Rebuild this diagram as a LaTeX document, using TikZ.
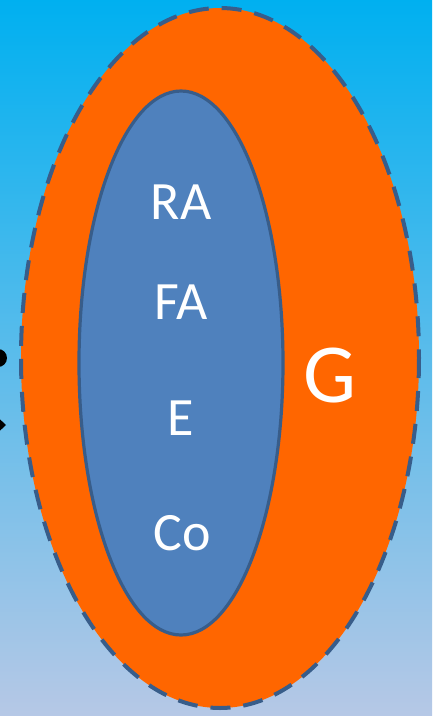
\documentclass[tikz,border=0pt]{standalone}
\usepackage{fontspec}
\setmainfont{Carlito}
\begin{document}
\begin{tikzpicture}[x=1pt,y=-1pt,
  lbl/.style={text=white,font=\fontsize{54}{60}\selectfont,inner sep=0pt},
  outerring/.style={fill={rgb,255:red,255;green,102;blue,0},draw={rgb,255:red,56;green,93;blue,138},line width=4pt,dash pattern=on 20pt off 13pt},
  innerset/.style={fill={rgb,255:red,79;green,129;blue,189},draw={rgb,255:red,56;green,93;blue,138},line width=3.2pt}]
\useasboundingbox (0,0) rectangle (432,716);
\shade[top color={rgb,255:red,0;green,176;blue,240},bottom color={rgb,255:red,182;green,200;blue,230}] (0,0) rectangle (432,716);
% partial black marks at left edge
\fill[black] (-2,358) circle (9);
\fill[black] (-10,410) -- (6,425) -- (-10,440) -- cycle;
\path[outerring] (220,358) ellipse [x radius=199, y radius=350];
\path[innerset] (181,363) ellipse [x radius=102, y radius=272];
\node[lbl] (ra) at (181,202) {RA};
\node[lbl] (fa) at (181,302) {FA};
\node[lbl] (e) at (181,418) {E};
\node[lbl] (co) at (182,533) {Co};
\node[text=white,font=\fontsize{84}{90}\selectfont,inner sep=0pt] (g) at (330,376) {G};
\end{tikzpicture}
\end{document}
